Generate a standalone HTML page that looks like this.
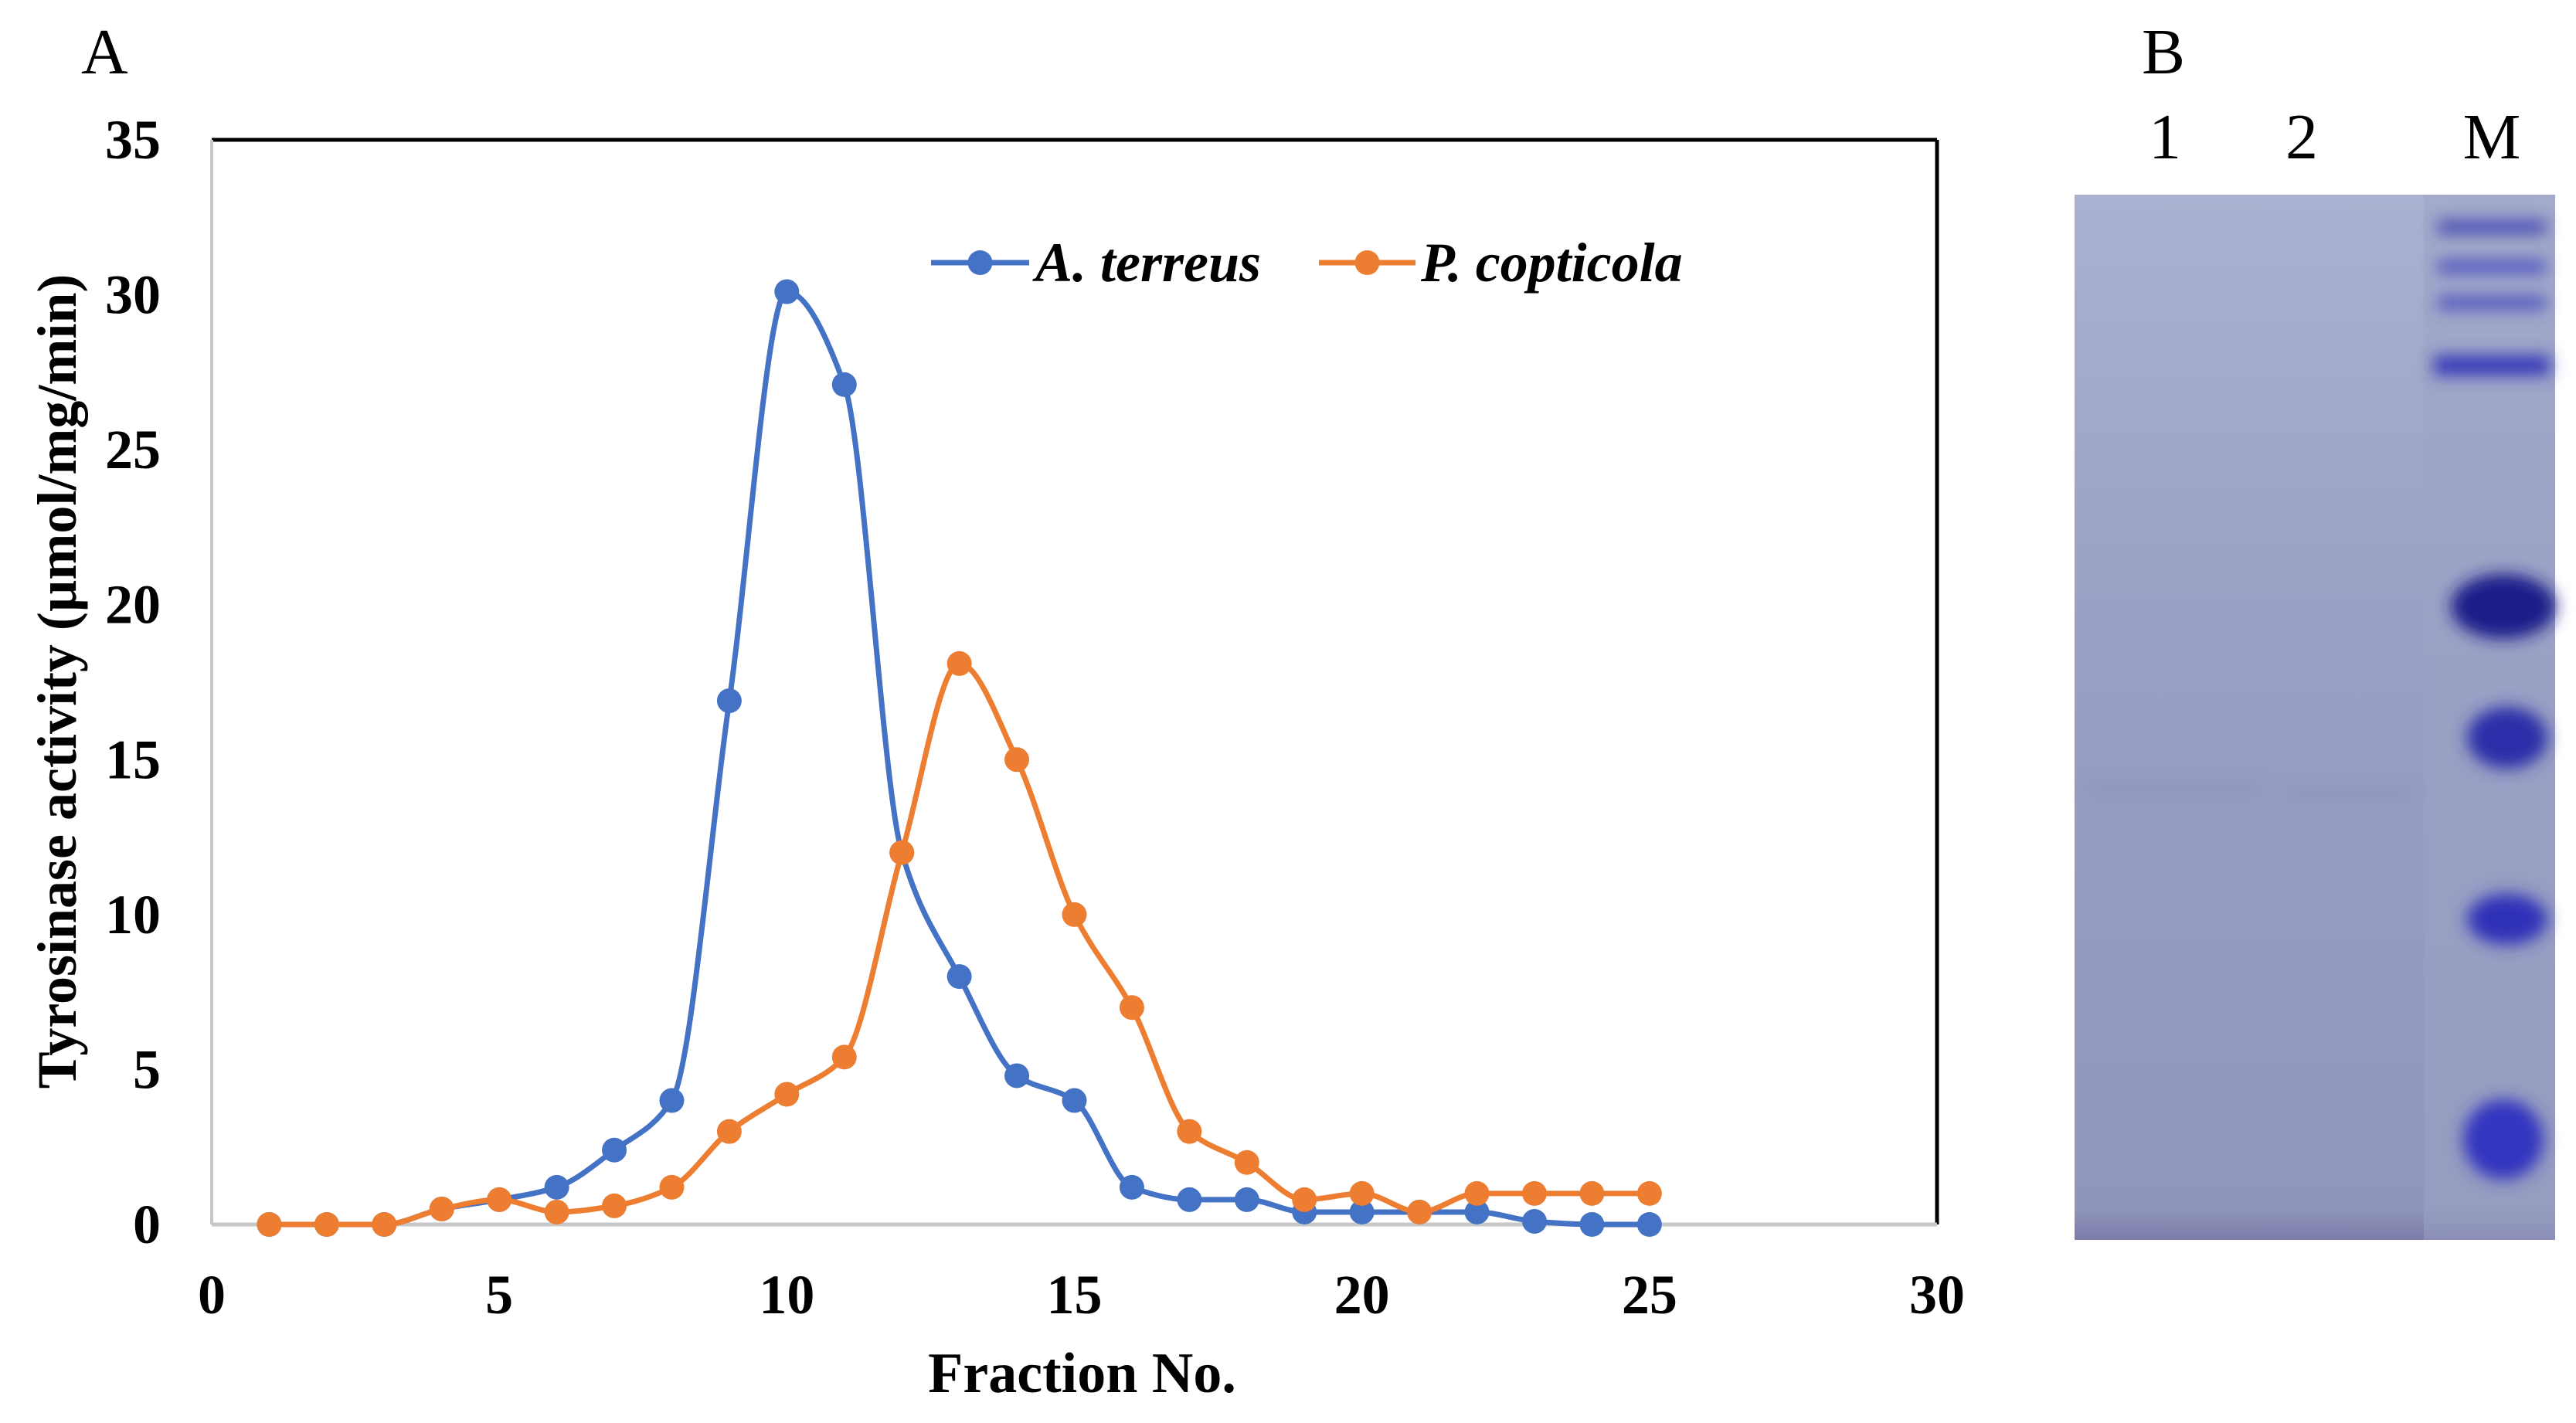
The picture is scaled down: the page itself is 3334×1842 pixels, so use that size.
<!DOCTYPE html>
<html><head><meta charset="utf-8"><style>
html,body{margin:0;padding:0;background:#fff;}
body{width:3334px;height:1837px;overflow:hidden;position:relative;font-family:"Liberation Serif",serif;}
</style></head><body>
<svg id="fig" width="3334" height="1837" viewBox="0 0 3334 1837" xmlns="http://www.w3.org/2000/svg">
<defs>
<filter id="blur" x="-20%" y="-50%" width="140%" height="200%"><feGaussianBlur stdDeviation="10"/></filter>
<linearGradient id="gelbg" x1="0" y1="0" x2="0" y2="1">
<stop offset="0" stop-color="#aab0cf"/><stop offset="0.5" stop-color="#979dc3"/><stop offset="0.97" stop-color="#9096bb"/><stop offset="1" stop-color="#7a7ca8"/>
</linearGradient>
</defs>
<text x="105" y="95" font-size="84" font-family="Liberation Serif">A</text>
<text x="2772" y="95" font-size="84" font-family="Liberation Serif">B</text>
<g id="plot"></g>
<g>
<rect x="2685" y="252" width="622" height="1353" fill="url(#gelbg)"/>
<rect x="3137" y="252" width="170" height="1353" fill="#9ea4c6" opacity="0.5"/>
<g filter="url(#blur)">
<rect x="3155" y="286" width="140" height="16" fill="#3c3fb0"/>
<rect x="3155" y="337" width="140" height="16" fill="#4a4ec0"/>
<rect x="3155" y="384" width="140" height="16" fill="#4a4ec0"/>
<rect x="3150" y="460" width="150" height="26" fill="#3538b8"/>
<ellipse cx="3240" cy="785" rx="68" ry="42" fill="#1c1a8a"/>
<ellipse cx="3245" cy="955" rx="52" ry="40" fill="#2c2ea8"/>
<ellipse cx="3245" cy="1190" rx="52" ry="33" fill="#2e32b8"/>
<ellipse cx="3240" cy="1475" rx="52" ry="52" fill="#3336c0"/>
<rect x="2700" y="1018" width="230" height="8" fill="#8586b8" opacity="0.6"/>
<rect x="2960" y="1022" width="160" height="8" fill="#8586b8" opacity="0.6"/>
</g>
</g>
<text x="2802" y="205" font-size="84" text-anchor="middle">1</text>
<text x="2979" y="205" font-size="84" text-anchor="middle">2</text>
<text x="3225" y="205" font-size="84" text-anchor="middle">M</text>
</svg>
<script>
const xTicks=[0,5,10,15,20,25,30];
const yTicks=[0,5,10,15,20,25,30,35];
const fractions=[1,2,3,4,5,6,7,8,9,10,11,12,13,14,15,16,17,18,19,20,21,22,23,24,25];
const terreus=[0,0,0,0.5,0.8,1.2,2.4,4,16.9,30.1,27.1,12,8,4.8,4,1.2,0.8,0.8,0.4,0.4,0.4,0.4,0.1,0,0];
const copticola=[0,0,0,0.5,0.8,0.4,0.6,1.2,3,4.2,5.4,12,18.1,15,10,7,3,2,0.8,1,0.4,1,1,1,1];
const NS='http://www.w3.org/2000/svg';
const L=274,R=2507,T=181,B=1585;
const xs=v=>L+(v-0)/(30-0)*(R-L);
const ys=v=>B-(v-0)/(35-0)*(B-T);
const g=document.getElementById('plot');
function mk(t,a){const e=document.createElementNS(NS,t);for(const k in a)e.setAttribute(k,a[k]);return e;}
let e;
e=mk('line',{x1:L,y1:T,x2:R,y2:T,stroke:'#000','stroke-width':5});

g.appendChild(e);
e=mk('line',{x1:R,y1:T,x2:R,y2:B,stroke:'#000','stroke-width':5});

g.appendChild(e);
e=mk('line',{x1:L,y1:T,x2:L,y2:B,stroke:'#c8c8c8','stroke-width':4});

g.appendChild(e);
e=mk('line',{x1:L,y1:B,x2:R,y2:B,stroke:'#c8c8c8','stroke-width':5});

g.appendChild(e);
yTicks.forEach(v=>{const t=mk('text',{x:208,y:ys(v)+24,'font-size':72,'font-weight':'bold','text-anchor':'end'});t.textContent=v;

g.appendChild(t);});
xTicks.forEach(v=>{const t=mk('text',{x:xs(v),y:1700,'font-size':72,'font-weight':'bold','text-anchor':'middle'});t.textContent=v;

g.appendChild(t);});
e=mk('text',{x:(L+R)/2+10,y:1802,'font-size':74,'font-weight':'bold','text-anchor':'middle'});e.textContent='Fraction No.';

g.appendChild(e);
e=mk('text',{x:0,y:0,'font-size':72,'font-weight':'bold','text-anchor':'middle',transform:'translate(98,882) rotate(-90)'});e.textContent='Tyrosinase activity (µmol/mg/min)';

g.appendChild(e);
function smooth(px,py){const n=px.length;const m=[];const d=[];
for(let i=0;i<n-1;i++)d.push((py[i+1]-py[i])/(px[i+1]-px[i]));
m[0]=d[0];m[n-1]=d[n-2];
for(let i=1;i<n-1;i++){if(d[i-1]*d[i]<=0)m[i]=0;else m[i]=2/(1/d[i-1]+1/d[i]);}
let s='M'+px[0]+','+py[0];
for(let i=0;i<n-1;i++){const h=(px[i+1]-px[i])/3;
s+=' C'+(px[i]+h)+','+(py[i]+m[i]*h)+' '+(px[i+1]-h)+','+(py[i+1]-m[i+1]*h)+' '+px[i+1]+','+py[i+1];}
return s;}
function series(vals,color,name){const px=fractions.map(xs),py=vals.map(ys);
const p=mk('path',{d:smooth(px,py),fill:'none',stroke:color,'stroke-width':7});

g.appendChild(p);
px.forEach((x,i)=>{const c=mk('circle',{cx:x,cy:py[i],r:16,fill:color});

g.appendChild(c);});}
series(terreus,'#4472c4','a-terreus');
series(copticola,'#ed7d31','p-copticola');
function legend(x1,x2,tx,color,label,name){const l=mk('line',{x1:x1,y1:340,x2:x2,y2:340,stroke:color,'stroke-width':7});

g.appendChild(l);
const c=mk('circle',{cx:(x1+x2)/2,cy:340,r:16,fill:color});

g.appendChild(c);
const t=mk('text',{x:tx,y:364,'font-size':72,'font-weight':'bold','font-style':'italic'});t.textContent=label;

g.appendChild(t);}
legend(1205,1332,1340,'#4472c4','A. terreus','a-terreus');
legend(1707,1832,1839,'#ed7d31','P. copticola','p-copticola');
</script>
</body></html>
